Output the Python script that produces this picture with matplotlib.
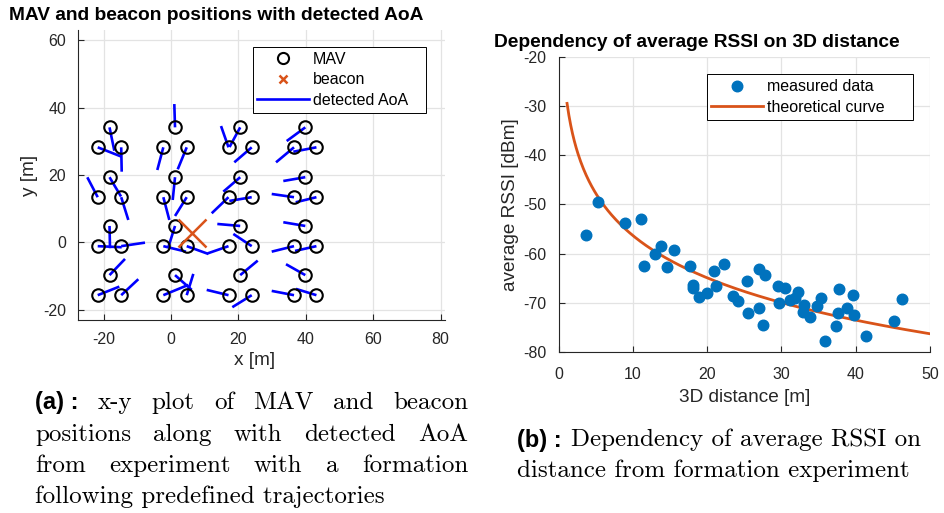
import matplotlib
matplotlib.use("Agg")
import matplotlib.pyplot as plt
import numpy as np
from matplotlib.lines import Line2D

plt.rcParams['font.family'] = ['Liberation Sans', 'DejaVu Sans']
plt.rcParams['axes.unicode_minus'] = False

# ---------------- data: left panel ----------------
mav_x = [-18.25, -21.75, -14.78, -18.25, -21.75, -14.78, -18.25, -21.75, -14.78, -18.25, -21.75, -14.78,
         1.19, -2.28, 4.66, 1.19, -2.28, 4.66, 1.19, -2.28, 4.66, 1.19, -2.28, 4.66,
         20.53, 17.06, 23.95, 20.53, 17.06, 23.95, 20.53, 17.06, 23.95, 20.53, 17.06, 23.95,
         39.85, 36.5, 43.15, 39.85, 36.5, 43.15, 39.85, 36.5, 43.15, 39.85, 36.5, 43.15]
mav_y = [34.13, 28.21, 28.21, 19.35, 13.42, 13.42, 4.89, -1.10, -1.10, -9.69, -15.64, -15.64] * 4

aoa_end_x = [-16.82, -14.63, -14.63, -14.84, -24.84, -12.67, -18.10, -14.63, -7.72, -13.65, -15.34, -9.70,
             0.98, -4.07, 1.99, 0.50, -0.50, 1.19, -0.80, 4.45, 11.07, 6.14, 5.13, 6.62,
             17.36, 14.84, 18.78, 15.52, 12.08, 17.30, 13.74, 10.83, 18.49, 25.73, 10.59, 18.19,
             34.33, 31.16, 36.29, 33.32, 29.88, 37.00, 33.32, 29.88, 36.80, 34.12, 29.88, 37.09]
aoa_end_y = [27.20, 25.42, 20.98, 13.63, 19.32, 6.67, -1.72, -1.42, -0.06, -4.89, -13.10, -10.90,
             41.04, 21.48, 21.69, 12.59, 6.67, 7.85, -1.42, -2.73, -3.41, -14.07, -12.59, -9.33,
             28.30, 34.52, 23.76, 15.05, 8.65, 12.30, 5.48, -3.26, 2.52, -5.39, -14.07, -19.20,
             30.07, 23.76, 26.90, 18.22, 14.37, 11.91, 5.99, -2.73, -2.52, -6.46, -14.37, -13.78]

beacon_x = [6.1]
beacon_y = [2.7]

left_xticks = [-20, 0, 20, 40, 60, 80]
left_yticks = [-20, 0, 20, 40, 60]

# ---------------- data: right panel ----------------
dist = [3.72, 5.27, 8.95, 11.17, 11.57, 13.05, 13.77, 14.57, 15.5, 17.7, 18.15, 18.15, 18.9, 19.95,
        20.9, 21.2, 22.3, 23.5, 24.2, 25.4, 25.5, 27.0, 27.8, 27.0, 27.5, 29.5, 30.5, 29.65, 31.2,
        31.8, 32.2, 33.05, 32.9, 33.8, 34.75, 35.3, 35.9, 37.35, 37.65, 37.8, 38.8, 39.6, 39.8,
        41.4, 45.2, 46.25]
rssi = [-56.3, -49.45, -53.7, -53.0, -62.5, -60.1, -58.5, -62.7, -59.3, -62.6, -66.4, -66.9, -68.8, -67.95,
        -63.6, -66.5, -62.1, -68.6, -69.6, -65.5, -72.0, -63.1, -64.35, -71.0, -74.6, -66.6, -66.9, -70.0, -69.4,
        -69.0, -67.7, -70.5, -71.8, -72.95, -70.6, -69.0, -77.7, -74.65, -72.0, -67.2, -71.0, -68.5, -72.4,
        -76.75, -73.6, -69.2]

# theoretical log-distance path-loss curve parameters
rssi_1m = -27.7
path_loss_exp = 2.86
curve_range = (1.15, 50.0)

right_xticks = [0, 10, 20, 30, 40, 50]
right_yticks = [-80, -70, -60, -50, -40, -30, -20]

# ---------------- styles ----------------
W, H = 944, 513
blue_pt = '#0072BD'
orange = '#D95319'
axcol = '#262626'
gridcol = '#e3e3e3'
TICK_FS = 11.5
LABEL_FS = 13.7
TITLE_FS = 13.8
LEG_FS = 11.5

fig = plt.figure(figsize=(W / 100, H / 100), dpi=100)


def style_axes(ax, xpad, ypad):
    for s in ['top', 'right']:
        ax.spines[s].set_visible(False)
    for s in ['left', 'bottom']:
        ax.spines[s].set_color(axcol)
        ax.spines[s].set_linewidth(0.8)
    ax.tick_params(direction='in', length=4, width=0.8, colors=axcol, labelsize=TICK_FS,
                   labelcolor=axcol)
    ax.tick_params(axis='x', pad=xpad)
    ax.tick_params(axis='y', pad=ypad)
    ax.grid(True, color=gridcol, linewidth=0.9)
    ax.set_axisbelow(True)


def legend_box(ax, handles, labels, x0, x1, ytop):
    leg = ax.legend(handles, labels, loc='upper left',
                    bbox_to_anchor=(x0 / W, 1 - ytop / H, (x1 - x0) / W, 0.001),
                    bbox_transform=fig.transFigure, mode='expand',
                    fancybox=False, edgecolor='black', framealpha=1, fontsize=LEG_FS,
                    handlelength=3.2, borderaxespad=0, borderpad=0.3, labelspacing=0.35,
                    handletextpad=0.25)
    leg.get_frame().set_linewidth(0.7)
    return leg


# ---------- left panel ----------
axL = fig.add_axes([78 / W, 1 - 320 / H, 367 / W, 290 / H])
style_axes(axL, 9, 8.5)
for x0, y0, x1, y1 in zip(mav_x, mav_y, aoa_end_x, aoa_end_y):
    axL.plot([x0, x1], [y0, y1], color='blue', lw=1.9, solid_capstyle='butt', zorder=3)
axL.plot(mav_x, mav_y, 'o', ms=9, mfc='none', mec='black', mew=1.5, zorder=4)
axL.plot(beacon_x, beacon_y, 'x', ms=20, mec=orange, mew=1.8, zorder=4)
axL.set_xlim(-27.6, 81.3)
axL.set_ylim(-23, 63)
axL.set_xticks(left_xticks)
axL.set_yticks(left_yticks)
axL.set_xlabel('x [m]', fontsize=LABEL_FS, color=axcol)
axL.set_ylabel('y [m]', fontsize=LABEL_FS, color=axcol)
axL.xaxis.set_label_coords(0.48, -0.112)
axL.yaxis.set_label_coords(-0.108, 0.5)
handlesL = [Line2D([], [], ls='none', marker='o', ms=8, mfc='none', mec='black', mew=1.5),
            Line2D([], [], ls='none', marker='x', ms=6, mec=orange, mew=1.8),
            Line2D([], [], color='blue', lw=1.9)]
legend_box(axL, handlesL, ['MAV', 'beacon', 'detected AoA'], 252.7, 425.7, 47.3)
fig.text(9 / W, 1 - 16 / H, 'MAV and beacon positions with detected AoA', fontsize=TITLE_FS,
         fontweight='bold', ha='left', va='center')

# ---------- right panel ----------
axR = fig.add_axes([558.5 / W, 1 - 352 / H, 371.5 / W, 295 / H])
style_axes(axR, 10.5, 8.5)
dd = np.linspace(curve_range[0], curve_range[1], 400)
lc, = axR.plot(dd, rssi_1m - 10 * path_loss_exp * np.log10(dd), color=orange, lw=2.0, zorder=3)
lp, = axR.plot(dist, rssi, 'o', ms=7.6, color=blue_pt, mec=blue_pt, zorder=4)
axR.set_xlim(0, 50)
axR.set_ylim(-80, -20)
axR.set_xticks(right_xticks)
axR.set_yticks(right_yticks)
axR.set_xlabel('3D distance [m]', fontsize=LABEL_FS, color=axcol)
axR.set_ylabel('average RSSI [dBm]', fontsize=LABEL_FS, color=axcol)
axR.xaxis.set_label_coords(0.5, -0.125)
axR.yaxis.set_label_coords(-0.106, 0.5)
legend_box(axR, [lp, lc], ['measured data', 'theoretical curve'], 706.7, 912.7, 75)
fig.text(494 / W, 1 - 43 / H, 'Dependency of average RSSI on 3D distance', fontsize=TITLE_FS,
         fontweight='bold', ha='left', va='center')

# ---------- captions ----------
CAP_FS = 18
cap_font = dict(family=['cmr10', 'DejaVu Serif'], fontsize=CAP_FS)
lab_font = dict(family=['Liberation Sans', 'DejaVu Sans'], fontsize=CAP_FS - 1, fontweight='bold')
renderer = fig.canvas.get_renderer()


def justified(words, x_left, x_right, y, first_bold=None):
    """Place words so that the line spans x_left..x_right (pixels)."""
    items = []
    if first_bold:
        items.append(fig.text(0, 0, first_bold, **lab_font))
    for w in words:
        items.append(fig.text(0, 0, w, **cap_font))
    widths = [t.get_window_extent(renderer).width for t in items]
    gap = (x_right - x_left - sum(widths)) / (len(items) - 1)
    x = x_left
    for t, w in zip(items, widths):
        t.set_position((x / W, 1 - y / H))
        t.set_va('center')
        x += w + gap


def plain(text, x_left, y, first_bold=None):
    x = x_left
    if first_bold:
        t = fig.text(x / W, 1 - y / H, first_bold, va='center', **lab_font)
        x += t.get_window_extent(renderer).width + 9
    fig.text(x / W, 1 - y / H, text, va='center', **cap_font)


justified('x-y plot of MAV and beacon'.split(), 35, 468, 403, first_bold='(a) :')
justified('positions along with detected AoA'.split(), 35, 468, 435)
justified('from experiment with a formation'.split(), 35, 468, 466)
plain('following predefined trajectories', 35, 497)
plain('Dependency of average RSSI on', 517, 440, first_bold='(b) :')
plain('distance from formation experiment', 517, 471)

fig.savefig('out.png', dpi=100)
